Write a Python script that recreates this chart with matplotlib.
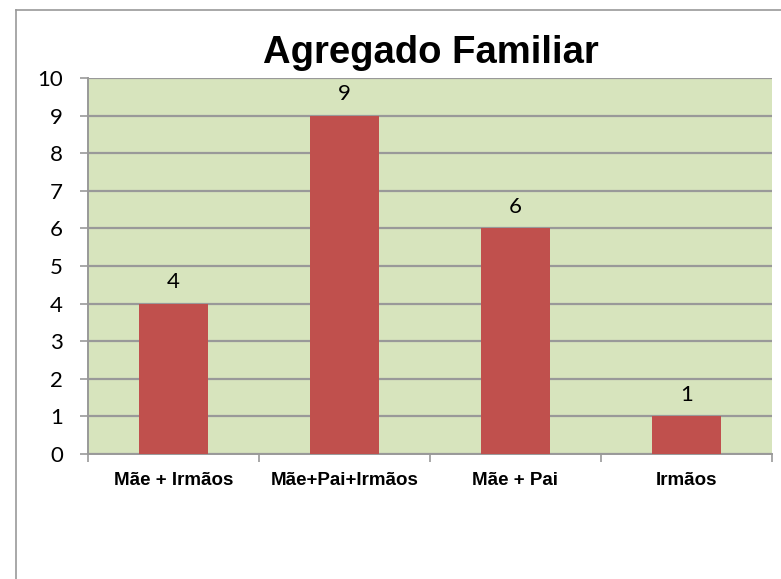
import matplotlib
matplotlib.use("Agg")
import matplotlib.pyplot as plt
from matplotlib.lines import Line2D

# Dados do gráfico
categorias = ["Mãe + Irmãos", "Mãe+Pai+Irmãos", "Mãe + Pai", "Irmãos"]
valores = [4, 9, 6, 1]
yticks = list(range(0, 11))

fig = plt.figure(figsize=(7.81, 5.79), dpi=100)
ax = fig.add_axes([88 / 781, 1 - 454 / 579, (772 - 88) / 781, (454 - 78) / 579])

# Moldura exterior (só esquerda e topo visíveis)
fig.add_artist(Line2D([16 / 781, 16 / 781], [0, 1 - 10 / 579], color="#999999", lw=1.2))
fig.add_artist(Line2D([16 / 781, 1], [1 - 10 / 579, 1 - 10 / 579], color="#999999", lw=1.2))

ax.set_facecolor("#D7E4BD")
x = list(range(len(categorias)))
barras = ax.bar(x, valores, width=0.4, color="#C0504D", zorder=3)

for xi, v in zip(x, valores):
    ax.annotate(str(v), (xi, v), xytext=(0, 8), textcoords="offset points",
                ha="center", va="bottom", fontsize=16, family="Lato")

ax.set_xlim(-0.5, len(categorias) - 0.5)
ax.set_ylim(0, 10)
ax.set_yticks(yticks)
ax.set_yticklabels([str(t) for t in yticks], fontsize=16, family="Lato")
ax.yaxis.grid(True, color="#999999", lw=1.6, zorder=1)
ax.set_axisbelow(True)
ax.tick_params(axis="y", length=6, width=1.2, color="#999999", pad=12)

ax.set_xticks(x)
ax.set_xticklabels(categorias, fontsize=13.5, fontweight="bold", family="Liberation Sans")
ax.tick_params(axis="x", length=0, pad=13)
# marcas entre categorias
ax.set_xticks([i - 0.5 for i in range(len(categorias) + 1)], minor=True)
ax.tick_params(axis="x", which="minor", length=6, width=1.2, color="#999999")

for lado in ["top", "right"]:
    ax.spines[lado].set_visible(False)
for lado in ["left", "bottom"]:
    ax.spines[lado].set_color("#999999")
    ax.spines[lado].set_linewidth(1.4)

fig.text(431 / 781, 1 - 53 / 579, "Agregado Familiar", ha="center", va="center",
         fontsize=27.5, fontweight="bold", family="Liberation Sans")

fig.savefig("out.png", dpi=100)
